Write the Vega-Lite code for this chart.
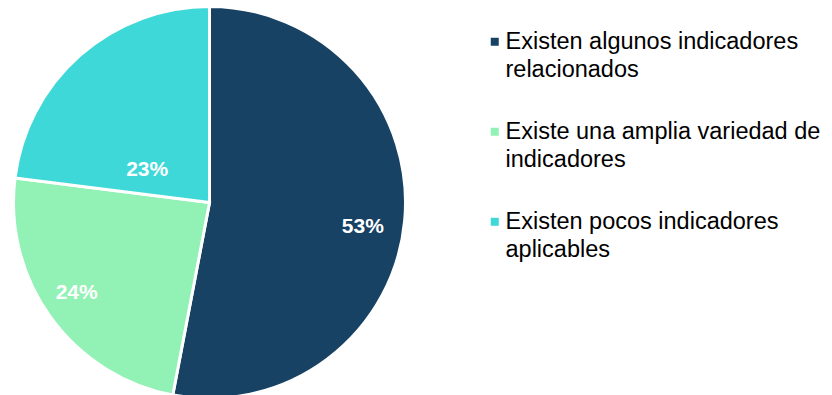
{
  "$schema": "https://vega.github.io/schema/vega-lite/v6.json",
  "width": 419,
  "height": 395,
  "padding": {"left": 0, "top": 0, "right": 0, "bottom": 0},
  "background": "white",
  "config": {
    "view": {"stroke": null},
    "font": "Liberation Sans",
    "style": {"guide-label": {"lineHeight": 28, "dy": 7}}
  },
  "data": {
    "values": [
      {"categoria": "Existen algunos indicadores relacionados", "valor": 53, "orden": 1, "etiqueta": "53%"},
      {"categoria": "Existe una amplia variedad de indicadores", "valor": 24, "orden": 2, "etiqueta": "24%"},
      {"categoria": "Existen pocos indicadores aplicables", "valor": 23, "orden": 3, "etiqueta": "23%"}
    ]
  },
  "encoding": {
    "theta": {"field": "valor", "type": "quantitative", "stack": true},
    "order": {"field": "orden", "type": "quantitative"},
    "color": {
      "field": "categoria",
      "type": "nominal",
      "sort": null,
      "scale": {
        "domain": ["Existen algunos indicadores relacionados", "Existe una amplia variedad de indicadores", "Existen pocos indicadores aplicables"],
        "range": ["#174263", "#92F1B4", "#3ED8D8"]
      },
      "legend": {
        "title": null,
        "orient": "none",
        "legendX": 483,
        "legendY": 25,
        "padding": 0,
        "symbolType": "square",
        "symbolSize": 64,
        "symbolStrokeWidth": 0,
        "labelFont": "Liberation Sans",
        "labelFontSize": 23.5,
        "labelColor": "#000000",
        "labelOffset": -1,
        "labelLimit": 400,
        "labelBaseline": "alphabetic",
        "rowPadding": 37,
        "labelExpr": "datum.label == 'Existen algunos indicadores relacionados' ? ['Existen algunos indicadores', 'relacionados'] : datum.label == 'Existe una amplia variedad de indicadores' ? ['Existe una amplia variedad de', 'indicadores'] : ['Existen pocos indicadores', 'aplicables']"
      }
    }
  },
  "layer": [
    {
      "mark": {"type": "arc", "outerRadius": 196, "stroke": "white", "strokeWidth": 3}
    },
    {
      "mark": {"type": "text", "radius": 157, "dx": -3, "dy": 10, "fontWeight": "bold", "fontSize": 21, "font": "Liberation Sans"},
      "encoding": {
        "text": {"condition": {"test": "datum.orden == 1", "field": "etiqueta"}, "value": ""},
        "color": {"value": "white"}
      }
    },
    {
      "mark": {"type": "text", "radius": 158, "dx": -5, "dy": -2, "fontWeight": "bold", "fontSize": 21, "font": "Liberation Sans"},
      "encoding": {
        "text": {"condition": {"test": "datum.orden == 2", "field": "etiqueta"}, "value": ""},
        "color": {"value": "white"}
      }
    },
    {
      "mark": {"type": "text", "radius": 70, "dx": -16, "dy": 20, "fontWeight": "bold", "fontSize": 21, "font": "Liberation Sans"},
      "encoding": {
        "text": {"condition": {"test": "datum.orden == 3", "field": "etiqueta"}, "value": ""},
        "color": {"value": "white"}
      }
    }
  ]
}
